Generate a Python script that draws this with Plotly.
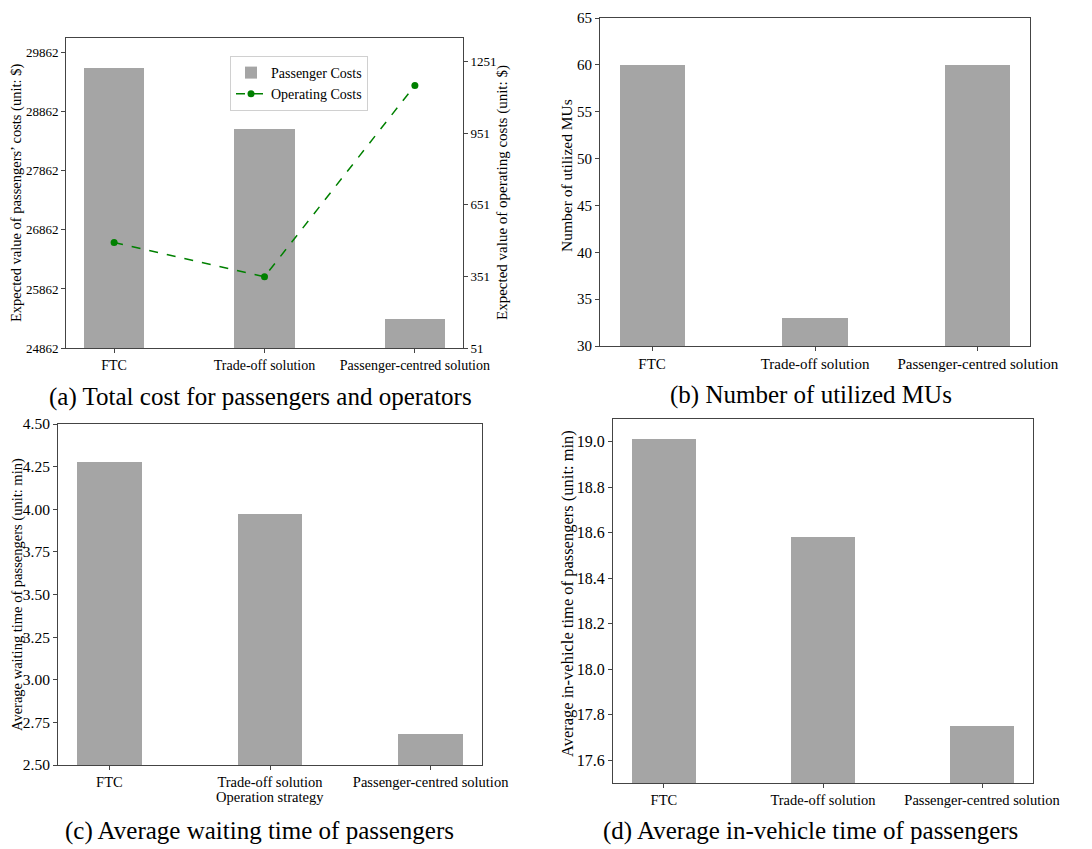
import plotly.graph_objects as go

# the page body keeps an 8px margin at top/left; size the figure to end at the window edge
OFF = 8
W, H = 1092 - OFF, 849 - OFF

categories = ["FTC", "Trade-off solution", "Passenger-centred solution"]
passenger_costs = [29618, 28579, 25359]
operating_costs = [493, 350, 1152]
utilized_mus = [60, 33, 60]
waiting_time = [4.28, 3.97, 2.68]
in_vehicle_time = [19.01, 18.58, 17.75]

cost_ticks = [24862, 25862, 26862, 27862, 28862, 29862]
op_ticks = [51, 351, 651, 951, 1251]
mu_ticks = [30, 35, 40, 45, 50, 55, 60, 65]
wait_ticks = [2.50, 2.75, 3.00, 3.25, 3.50, 3.75, 4.00, 4.25, 4.50]
ivt_ticks = [17.6, 17.8, 18.0, 18.2, 18.4, 18.6, 18.8, 19.0]

captions = [
    "(a) Total cost for passengers and operators",
    "(b) Number of utilized MUs",
    "(c) Average waiting time of passengers",
    "(d) Average in-vehicle time of passengers",
]
y_titles = [
    "Expected value of passengers’ costs (unit: $)",
    "Expected value of operating costs (unit: $)",
    "Number of utilized MUs",
    "Average waiting time of passengers (unit: min)",
    "Average in-vehicle time of passengers (unit: min)",
]
x_title_c = "Operation strategy"

BAR = "#a5a5a5"
LINE = "#444444"
FONT = "Liberation Serif"


def px(x):
    return (x - OFF) / W


def py(y):
    return 1 - (y - OFF) / H


def xd(l, r):
    return [px(l), px(r)]


def yd(t, b):
    return [py(b), py(t)]


fig = go.Figure()

fig.add_trace(go.Bar(x=[0, 1, 2], y=passenger_costs, width=0.4, marker_color=BAR,
                     marker_line_width=0, name="Passenger Costs", xaxis="x", yaxis="y"))
fig.add_trace(go.Scatter(x=[0, 1, 2], y=operating_costs, mode="lines+markers",
                         line=dict(color="green", dash="dash", width=1.5),
                         marker=dict(color="green", size=7),
                         name="Operating Costs", xaxis="x", yaxis="y5"))
fig.add_trace(go.Bar(x=[0, 1, 2], y=utilized_mus, width=0.4, marker_color=BAR,
                     marker_line_width=0, showlegend=False, xaxis="x2", yaxis="y2"))
fig.add_trace(go.Bar(x=[0, 1, 2], y=waiting_time, width=0.4, marker_color=BAR,
                     marker_line_width=0, showlegend=False, xaxis="x3", yaxis="y3"))
fig.add_trace(go.Bar(x=[0, 1, 2], y=in_vehicle_time, width=0.4, marker_color=BAR,
                     marker_line_width=0, showlegend=False, xaxis="x4", yaxis="y4"))


def xax(dom, anchor, size):
    return dict(domain=dom, anchor=anchor, range=[-0.32, 2.32], tickvals=[0, 1, 2],
                ticktext=categories, showline=True, mirror=True, linecolor=LINE, linewidth=1,
                ticks="outside", ticklen=4, tickcolor=LINE, showgrid=False, zeroline=False,
                automargin=False, ticklabeloverflow="allow",
                tickfont=dict(size=size, family=FONT, color="black"))


def yax(dom, anchor, rng, ticks, fmt, size, mirror=True):
    return dict(domain=dom, anchor=anchor, range=rng, tickvals=ticks, tickformat=fmt,
                showline=True, mirror=mirror, linecolor=LINE, linewidth=1,
                ticks="outside", ticklen=4, tickcolor=LINE, showgrid=False, zeroline=False,
                automargin=False, ticklabeloverflow="allow",
                tickfont=dict(size=size, family=FONT, color="black"))


layout = dict(
    width=W, height=H, margin=dict(l=0, r=0, t=0, b=0),
    paper_bgcolor="white", plot_bgcolor="white",
    font=dict(family=FONT, color="black"),
    bargap=0,
    xaxis=xax(xd(66, 463), "y", 14),
    yaxis=yax(yd(37.5, 348), "x", [24862, 30120], cost_ticks, "d", 13, mirror=False),
    yaxis5=dict(overlaying="y", side="right", anchor="x", range=[51, 1353], tickvals=op_ticks,
                showline=True, linecolor=LINE, linewidth=1, ticks="outside", ticklen=4,
                tickcolor=LINE, showgrid=False, zeroline=False, automargin=False,
                ticklabeloverflow="allow",
                tickfont=dict(size=13, family=FONT, color="black")),
    xaxis2=xax(xd(600, 1030), "y2", 15),
    yaxis2=yax(yd(18, 346), "x2", [30, 65], mu_ticks, "d", 15),
    xaxis3=xax(xd(58, 482), "y3", 14.5),
    yaxis3=yax(yd(424, 765), "x3", [2.5, 4.5], wait_ticks, ".2f", 15.5),
    xaxis4=xax(xd(613, 1033), "y4", 14.5),
    yaxis4=yax(yd(419, 783), "x4", [17.5, 19.1], ivt_ticks, ".1f", 16),
    showlegend=True,
    legend=dict(x=px(230), y=py(56), xanchor="left", yanchor="top",
                bordercolor="#d0d0d0", borderwidth=1, bgcolor="white",
                font=dict(size=14, family=FONT, color="black"), tracegroupgap=2),
)
fig.update_layout(**layout)

# rotated y-axis titles
ytitle_pos = [(17, 193, 14.5), (503, 193, 15), (567, 176, 15.5), (17, 595, 14.5), (567, 594, 16.5)]
for text, (cx, cy, sz) in zip(y_titles, ytitle_pos):
    fig.add_annotation(text=text, x=px(cx), y=py(cy), xref="paper", yref="paper",
                       showarrow=False, xanchor="center", yanchor="middle", textangle=-90,
                       font=dict(size=sz, family=FONT, color="black"))

fig.add_annotation(text=x_title_c, x=px(270), y=py(797), xref="paper", yref="paper",
                   showarrow=False, xanchor="center", yanchor="middle",
                   font=dict(size=14.5, family=FONT, color="black"))

cap_pos = [(260, 397), (811, 395), (259, 831), (810, 831)]
for text, (cx, cy) in zip(captions, cap_pos):
    fig.add_annotation(text=text, x=px(cx), y=py(cy), xref="paper", yref="paper",
                       showarrow=False, xanchor="center", yanchor="middle",
                       font=dict(size=25, family=FONT, color="black"))

fig.write_html("out.html")
